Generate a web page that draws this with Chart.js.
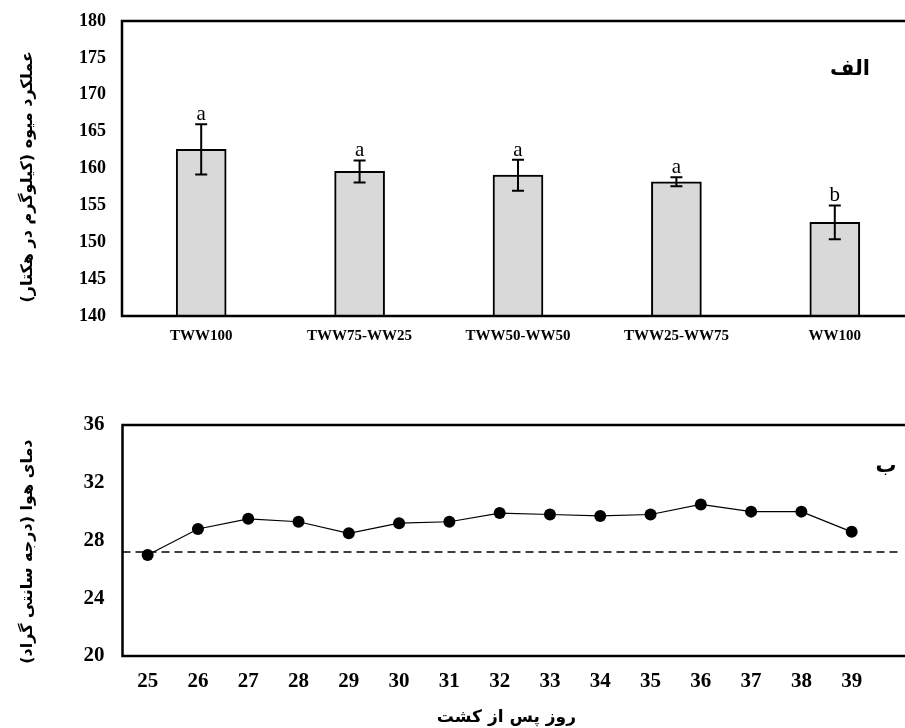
<!DOCTYPE html>
<html>
<head>
<meta charset="utf-8">
<script src="https://cdn.jsdelivr.net/npm/chart.js@4.4.0/dist/chart.umd.min.js"></script>
<style>
html, body { margin: 0; padding: 0; overflow: hidden; background: #fff; width: 905px; height: 728px; }
.box { position: absolute; left: 0; }
#yieldBox { top: 0; width: 914px; height: 352px; }
#tempBox { top: 380px; width: 914px; height: 348px; }
</style>
</head>
<body>
<div class="box" id="yieldBox"><canvas id="yieldChart"></canvas></div>
<div class="box" id="tempBox"><canvas id="tempChart"></canvas></div>
<script>
// panel الف : fruit yield by irrigation treatment
const treatments = ['TWW100', 'TWW75-WW25', 'TWW50-WW50', 'TWW25-WW75', 'WW100'];
const yieldMean = [162.6, 159.6, 159.1, 158.2, 152.7];
const yieldErr = [3.4, 1.5, 2.1, 0.6, 2.3];
const groupLetters = ['a', 'a', 'a', 'a', 'b'];

// panel ب : air temperature by day after planting
const days = [25, 26, 27, 28, 29, 30, 31, 32, 33, 34, 35, 36, 37, 38, 39];
const airTemp = [27.0, 28.8, 29.5, 29.3, 28.5, 29.2, 29.3, 29.9, 29.8, 29.7, 29.8, 30.5, 30.0, 30.0, 28.6];
const tempThreshold = 27.2;

const serif = '"Liberation Serif", "Times New Roman", serif';
const persian = '"DejaVu Sans", sans-serif';
// keep persian strings right-to-left inside the canvas
// (lead = a few no-break spaces on the right side, to nudge the title like in the original)
const rtl = (s, lead = 0) => '\u200F' + '\u00A0'.repeat(lead) + s + '\u200F';

// black box around the plot area (right side falls outside the window)
const framePlugin = {
  id: 'frame',
  afterDatasetsDraw(chart) {
    const a = chart.chartArea;
    const ctx = chart.ctx;
    ctx.save();
    ctx.strokeStyle = '#000';
    ctx.lineWidth = 2.5;
    ctx.strokeRect(a.left, a.top, a.right - a.left, a.bottom - a.top);
    ctx.restore();
  }
};

// panel letter in the upper right corner
const panelLabel = (text, dx, dy) => ({
  id: 'panelLabel',
  afterDraw(chart) {
    const ctx = chart.ctx;
    ctx.save();
    ctx.font = 'bold 21px ' + persian;
    ctx.fillStyle = '#000';
    ctx.textAlign = 'center';
    ctx.textBaseline = 'middle';
    ctx.fillText(rtl(text), chart.chartArea.right - dx, chart.chartArea.top + dy);
    ctx.restore();
  }
});

// error bars + mean separation letters
const errorBarPlugin = {
  id: 'errorBars',
  afterDatasetsDraw(chart) {
    const { ctx, scales: { x, y } } = chart;
    ctx.save();
    ctx.strokeStyle = '#000';
    ctx.lineWidth = 2;
    ctx.fillStyle = '#000';
    ctx.font = '21px ' + serif;
    ctx.textAlign = 'center';
    ctx.textBaseline = 'alphabetic';
    yieldMean.forEach((m, i) => {
      const px = x.getPixelForValue(i);
      const top = y.getPixelForValue(m + yieldErr[i]);
      const bot = y.getPixelForValue(m - yieldErr[i]);
      ctx.beginPath();
      ctx.moveTo(px, top); ctx.lineTo(px, bot);
      ctx.moveTo(px - 6, top); ctx.lineTo(px + 6, top);
      ctx.moveTo(px - 6, bot); ctx.lineTo(px + 6, bot);
      ctx.stroke();
      ctx.fillText(groupLetters[i], px, top - 4);
    });
    ctx.restore();
  }
};

// fixed axis width, and no extra room for the end labels
const fixWidth = w => s => { s.width = w; s.paddingTop = 0; s.paddingBottom = 0; };

new Chart(document.getElementById('yieldChart'), {
  type: 'bar',
  data: {
    labels: treatments,
    datasets: [{
      data: yieldMean,
      backgroundColor: '#d9d9d9',
      borderColor: '#000',
      borderWidth: 2,
      barThickness: 50
    }]
  },
  options: {
    responsive: true,
    maintainAspectRatio: false,
    animation: false,
    layout: { padding: { top: 21, left: 0, right: 0, bottom: 0 } },
    plugins: { legend: { display: false }, tooltip: { enabled: false } },
    scales: {
      x: {
        offset: true,
        grid: { display: false, drawTicks: false },
        border: { display: false },
        ticks: { color: '#000', font: { family: serif, size: 15, weight: 'bold' }, padding: 11, maxRotation: 0, autoSkip: false },
        afterFit: s => { s.height = 36; }
      },
      y: {
        min: 140,
        max: 180,
        grid: { display: false, drawTicks: false },
        border: { display: false },
        ticks: { stepSize: 5, color: '#000', font: { family: serif, size: 18, weight: 'bold' }, padding: 16 },
        title: {
          display: true,
          text: rtl('عملکرد میوه (کیلوگرم در هکتار)', 3),
          color: '#000',
          font: { family: persian, size: 16, weight: 'bold' },
          padding: { top: 18, bottom: 0 }
        },
        afterFit: fixWidth(122)
      }
    }
  },
  plugins: [errorBarPlugin, framePlugin, panelLabel('الف', 64, 49)]
});

new Chart(document.getElementById('tempChart'), {
  type: 'line',
  data: {
    datasets: [{
      data: days.map((d, i) => ({ x: d, y: airTemp[i] })),
      borderColor: '#000',
      borderWidth: 1.2,
      pointRadius: 6,
      pointBackgroundColor: '#000',
      pointBorderWidth: 0,
      tension: 0
    }, {
      data: [{ x: 24.5, y: tempThreshold }, { x: 39.95, y: tempThreshold }],
      borderColor: '#000',
      borderWidth: 1.6,
      borderDash: [8, 5],
      pointRadius: 0
    }]
  },
  options: {
    responsive: true,
    maintainAspectRatio: false,
    animation: false,
    layout: { padding: { top: 45, left: 0, right: 0, bottom: 0 } },
    plugins: { legend: { display: false }, tooltip: { enabled: false } },
    scales: {
      x: {
        type: 'linear',
        min: 24.5,
        max: 40.12,
        grid: { display: false, drawTicks: false },
        border: { display: false },
        ticks: { stepSize: 1, color: '#000', font: { family: serif, size: 21, weight: 'bold' }, padding: 13, maxRotation: 0 },
        afterBuildTicks: s => { s.ticks = days.map(v => ({ value: v })); },
        title: {
          display: true,
          text: rtl('روز پس از کشت', 3),
          color: '#000',
          font: { family: persian, size: 17, weight: 'bold' },
          padding: { top: 0, bottom: 0 }
        },
        afterFit: s => { s.height = 72; }
      },
      y: {
        min: 20,
        max: 36,
        grid: { display: false, drawTicks: false },
        border: { display: false },
        ticks: { stepSize: 4, color: '#000', font: { family: serif, size: 21, weight: 'bold' }, padding: 18 },
        title: {
          display: true,
          text: rtl('دمای هوا (درجه سانتی گراد)', 4),
          color: '#000',
          font: { family: persian, size: 16, weight: 'bold' },
          padding: { top: 18, bottom: 0 }
        },
        afterFit: fixWidth(122.5)
      }
    }
  },
  plugins: [framePlugin, panelLabel('ب', 22, 42)]
});
</script>
</body>
</html>
